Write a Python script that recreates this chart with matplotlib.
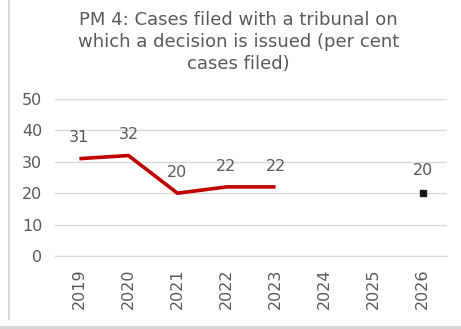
import matplotlib.pyplot as plt
from matplotlib.lines import Line2D
from matplotlib.patches import Rectangle

plt.rcParams['font.family'] = ['DejaVu Sans']

years = ['2019', '2020', '2021', '2022', '2023', '2024', '2025', '2026']
actual = [31, 32, 20, 22, 22]
target_year = '2026'
target = 20

text_col = '#595959'

fig = plt.figure(figsize=(4.61, 3.29), dpi=100)
ax = fig.add_axes([0.119, 0.222, 0.851, 0.477])

x = list(range(len(years)))
ax.plot(x[:len(actual)], actual, color='#c00000', lw=2.6, solid_capstyle='butt', zorder=3)
tx = years.index(target_year)
ax.plot([tx], [target], marker='s', ms=4.5, color='#1a1a1a', ls='none', zorder=3)

for xi, v in zip(x, actual):
    ax.annotate(str(v), (xi, v), xytext=(0, 15), textcoords='offset points',
                ha='center', va='center', fontsize=11.5, color=text_col)
ax.annotate(str(target), (tx, target), xytext=(0, 16), textcoords='offset points',
            ha='center', va='center', fontsize=11.5, color=text_col)

ax.set_xlim(-0.5, len(years) - 0.5)
ax.set_ylim(0, 50)
ax.set_yticks(range(0, 51, 10))
ax.set_xticks(x)
ax.set_xticklabels(years, rotation=90)
ax.tick_params(length=0, labelsize=11.5, labelcolor=text_col)
ax.tick_params(axis='y', pad=9)
ax.tick_params(axis='x', pad=9)
ax.grid(axis='y', color='#d9d9d9', lw=1)
ax.set_axisbelow(True)
for s in ['top', 'right', 'left']:
    ax.spines[s].set_visible(False)
ax.spines['bottom'].set_color('#d9d9d9')

fig.text(0.517, 0.968, 'PM 4: Cases filed with a tribunal on\nwhich a decision is issued (per cent\ncases filed)',
         ha='center', va='top', fontsize=13, color=text_col, linespacing=1.3)

# frame around the chart box
fig.add_artist(Line2D([0.02, 0.02], [0.03, 1.0], transform=fig.transFigure, color='#d0d0d0', lw=1.2))
fig.add_artist(Rectangle((0, 0), 1, 0.01, transform=fig.transFigure, color='#d6d6d6', lw=0))

fig.savefig('out.png', dpi=100)
